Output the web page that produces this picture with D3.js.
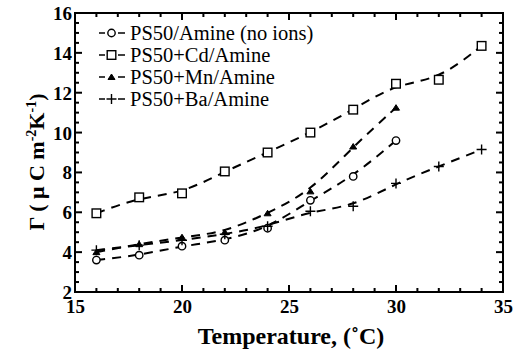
<!DOCTYPE html>
<html><head><meta charset="utf-8">
<script src="https://cdn.jsdelivr.net/npm/d3@7"></script>
<style>body{margin:0;background:#fff}svg{display:block}
svg text{font-family:"Liberation Serif","Times New Roman",Times,serif}</style>
</head><body>
<svg id="c" width="517" height="354"></svg>
<script>
const seriesNames = ["PS50/Amine (no ions)", "PS50+Cd/Amine", "PS50+Mn/Amine", "PS50+Ba/Amine"];
const markers = ["circle", "square", "triangle", "plus"];
const tempAmine = [16, 18, 20, 22, 24, 26, 28, 30];
const valAmine = [3.6, 3.85, 4.3, 4.6, 5.2, 6.6, 7.8, 9.6];
const tempCd = [16, 18, 20, 22, 24, 26, 28, 30, 32, 34];
const valCd = [5.95, 6.75, 6.95, 8.05, 9.0, 10.0, 11.15, 12.45, 12.65, 14.35];
const tempMn = [16, 18, 20, 22, 24, 26, 28, 30];
const valMn = [4.0, 4.4, 4.75, 5.0, 5.95, 7.05, 9.3, 11.25];
const tempBa = [16, 18, 20, 22, 24, 26, 28, 30, 32, 34];
const valBa = [4.1, 4.35, 4.6, 4.9, 5.3, 6.05, 6.3, 7.45, 8.3, 9.15];
const xTicks = [15, 20, 25, 30, 35];
const yTicks = [2, 4, 6, 8, 10, 12, 14, 16];

const series = [
  {name: seriesNames[0], m: markers[0], x: tempAmine, y: valAmine},
  {name: seriesNames[1], m: markers[1], x: tempCd, y: valCd},
  {name: seriesNames[2], m: markers[2], x: tempMn, y: valMn},
  {name: seriesNames[3], m: markers[3], x: tempBa, y: valBa}
];

const L = 75, R = 503, T = 13, B = 292;
const svg = d3.select("#c");
const x = d3.scaleLinear().domain([15, 35]).range([L, R]);
const y = d3.scaleLinear().domain([2, 16]).range([B, T]);
const font = "Liberation Serif";

const g = svg.append("g");
function tickSet(vals, len, orient) {
  vals.forEach(v => {
    if (orient === "b") g.append("line").attr("x1", x(v)).attr("x2", x(v)).attr("y1", B).attr("y2", B - len);
    if (orient === "t") g.append("line").attr("x1", x(v)).attr("x2", x(v)).attr("y1", T).attr("y2", T + len);
    if (orient === "l") g.append("line").attr("x1", L).attr("x2", L + len).attr("y1", y(v)).attr("y2", y(v));
    if (orient === "r") g.append("line").attr("x1", R).attr("x2", R - len).attr("y1", y(v)).attr("y2", y(v));
  });
}
const xMinor = d3.range(15, 35.01, 1).filter(v => v % 5 !== 0);
const yMinor = d3.range(2, 16.01, 0.5).filter(v => v % 2 !== 0);
tickSet(xMinor, 4, "b"); tickSet(xMinor, 4, "t");
tickSet(xTicks, 7, "b"); tickSet(xTicks, 7, "t");
tickSet(yMinor, 4, "l"); tickSet(yMinor, 4, "r");
tickSet(yTicks, 7, "l"); tickSet(yTicks, 7, "r");
g.selectAll("line").attr("stroke", "#000").attr("stroke-width", 2);

svg.append("rect").attr("x", L).attr("y", T).attr("width", R - L).attr("height", B - T)
  .attr("fill", "none").attr("stroke", "#000").attr("stroke-width", 2);

const xa = svg.append("g").attr("transform", `translate(0,${B})`)
  .call(d3.axisBottom(x).tickValues(xTicks).tickSize(0).tickPadding(0).tickFormat(d3.format("d")));
const ya = svg.append("g").attr("transform", `translate(${L},0)`)
  .call(d3.axisLeft(y).tickValues(yTicks).tickSize(0).tickPadding(3).tickFormat(d3.format("d")));
[xa, ya].forEach(a => {
  a.select(".domain").remove();
  a.selectAll("text").attr("font-family", font).attr("font-size", 19).attr("font-weight", "bold").attr("fill", "#000");
});
xa.selectAll("text").attr("y", 21).attr("dy", null);
ya.selectAll("text").attr("dy", "0.34em");

svg.append("text").attr("x", 291).attr("y", 344).attr("text-anchor", "middle")
  .attr("font-family", font).attr("font-size", 24).attr("font-weight", "bold").text("Temperature, (\u02DAC)");

const yl = svg.append("text").attr("transform", `translate(44,162) rotate(-90)`)
  .attr("text-anchor", "middle").attr("font-family", font).attr("font-size", 22).attr("font-weight", "bold");
yl.append("tspan").text("\u0393 ( \u03BC C m");
yl.append("tspan").attr("dy", -8).attr("font-size", 14).text("-2");
yl.append("tspan").attr("dy", 8).text("K");
yl.append("tspan").attr("dy", -8).attr("font-size", 14).text("-1");
yl.append("tspan").attr("dy", 8).text(")");

const line = d3.line().x(d => x(d[0])).y(d => y(d[1])).curve(d3.curveBasis);

function drawMarker(sel, m, cx, cy) {
  if (m === "circle") sel.append("circle").attr("cx", cx).attr("cy", cy).attr("r", 3.7).attr("fill", "#fff").attr("stroke", "#000").attr("stroke-width", 1.4);
  if (m === "square") sel.append("rect").attr("x", cx - 4.3).attr("y", cy - 4.3).attr("width", 8.6).attr("height", 8.6).attr("fill", "#fff").attr("stroke", "#000").attr("stroke-width", 1.4);
  if (m === "triangle") sel.append("path").attr("d", `M${cx - 3.5},${cy + 2.5}L${cx},${cy - 3}L${cx + 3.5},${cy + 2.5}Z`).attr("fill", "#000").attr("stroke", "#000").attr("stroke-width", 1);
  if (m === "plus") sel.append("path").attr("d", `M${cx - 5},${cy}H${cx + 5}M${cx},${cy - 5}V${cy + 5}`).attr("stroke", "#000").attr("stroke-width", 1.4);
}

series.forEach(s => {
  const pts = s.x.map((t, i) => [t, s.y[i]]);
  svg.append("path").attr("d", line(pts)).attr("fill", "none").attr("stroke", "#000")
    .attr("stroke-width", 2).attr("stroke-dasharray", "9,7");
  const mg = svg.append("g");
  pts.forEach(p => drawMarker(mg, s.m, x(p[0]), y(p[1])));
});

series.forEach((s, i) => {
  const ly = 33 + i * 22;
  const lg = svg.append("g");
  lg.append("line").attr("x1", 99).attr("x2", 105).attr("y1", ly).attr("y2", ly).attr("stroke", "#000").attr("stroke-width", 1.5);
  lg.append("line").attr("x1", 118).attr("x2", 125).attr("y1", ly).attr("y2", ly).attr("stroke", "#000").attr("stroke-width", 1.5);
  drawMarker(lg, s.m, 111.5, ly);
  lg.append("text").attr("x", 130).attr("y", ly + 6.5).attr("font-family", font).attr("font-size", 20.5).attr("fill", "#000").text(s.name);
});
</script>
</body></html>
